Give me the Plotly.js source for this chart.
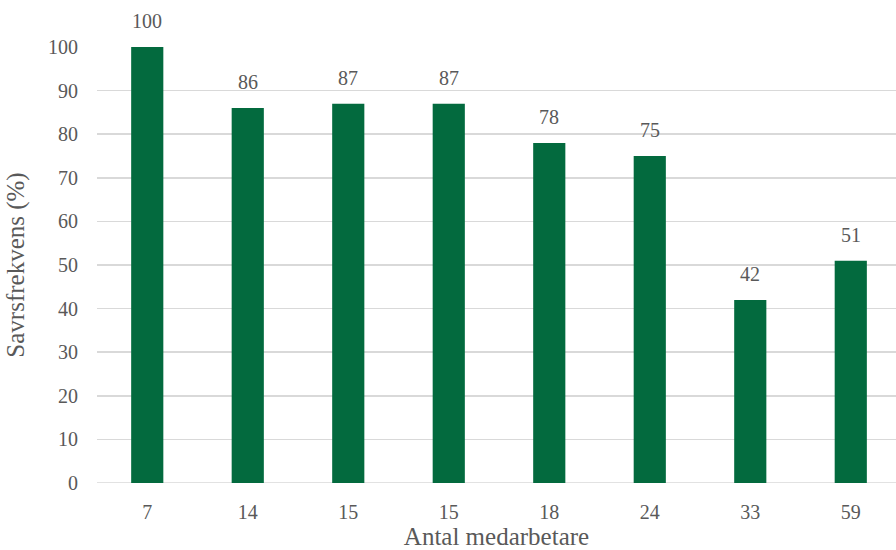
<!DOCTYPE html>
<html><head><meta charset="utf-8">
<script src="https://cdn.plot.ly/plotly-3.0.1.min.js"></script>
<style>html,body{margin:0;padding:0;background:#fff}</style>
</head><body>
<div id="chart" style="width:896px;height:550px"></div>
<script>
const categories = ["7", "14", "15", "15", "18", "24", "33", "59"];
const values = [100, 86, 87, 87, 78, 75, 42, 51];
const yTicks = [0, 10, 20, 30, 40, 50, 60, 70, 80, 90, 100];

const idx = categories.map((c, i) => i);
const font = "Liberation Serif";
const txt = "#595959";

const trace = {
  type: "bar",
  x: idx,
  y: values,
  marker: {color: "#036A3E"},
  hoverinfo: "skip"
};

const annotations = values.map((v, i) => ({
  x: i, y: v, xref: "x", yref: "y",
  text: String(v), showarrow: false,
  yanchor: "bottom", yshift: 13,
  font: {family: font, size: 20, color: txt}
}));

const layout = {
  width: 896, height: 550,
  margin: {l: 97, r: 0, t: 47, b: 67},
  paper_bgcolor: "#fff", plot_bgcolor: "#fff",
  bargap: 0.68,
  showlegend: false,
  font: {family: font, size: 20, color: txt},
  xaxis: {
    range: [-0.5, 7.45],
    tickmode: "array", tickvals: idx, ticktext: categories,
    showgrid: false, zeroline: false, showline: false,
    ticks: "outside", ticklen: 11, tickcolor: "rgba(0,0,0,0)",
    tickfont: {family: font, size: 20, color: txt},
    title: {text: "Antal medarbetare", font: {family: font, size: 25, color: txt}, standoff: 2}
  },
  yaxis: {
    range: [0, 100],
    tickmode: "array", tickvals: yTicks,
    showgrid: true, gridcolor: "#d9d9d9", gridwidth: 1.5,
    zeroline: false, showline: false,
    ticks: "outside", ticklen: 14, tickcolor: "rgba(0,0,0,0)",
    tickfont: {family: font, size: 20, color: txt},
    title: {text: "Savrsfrekvens (%)", font: {family: font, size: 25, color: txt}, standoff: 16}
  },
  shapes: [{type: "line", xref: "paper", yref: "y", x0: 0, x1: 1, y0: 0, y1: 0,
            line: {color: "#d9d9d9", width: 1.5}, layer: "below"}],
  annotations: annotations
};

Plotly.newPlot("chart", [trace], layout, {displayModeBar: false, staticPlot: true});
</script>
</body></html>
